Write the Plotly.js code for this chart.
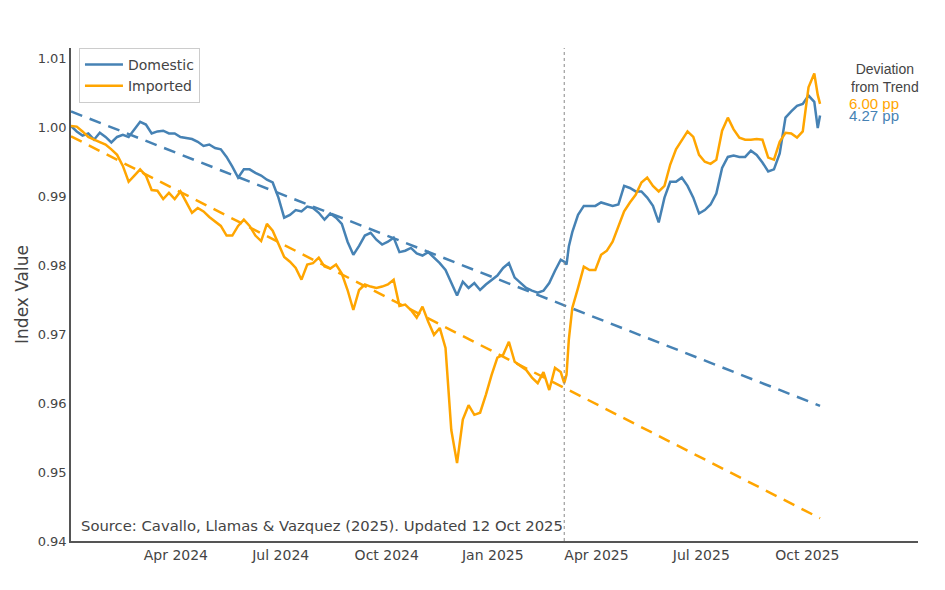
<!DOCTYPE html>
<html>
<head>
<meta charset="utf-8">
<script src="https://cdn.plot.ly/plotly-3.0.1.min.js"></script>
<style>html,body{margin:0;padding:0;background:#fff;}#chart{width:945px;height:590px;}</style>
</head>
<body>
<div id="chart"></div>
<script>
const dates = [
"2024-01-01","2024-01-06","2024-01-11","2024-01-16","2024-01-21","2024-01-26","2024-01-31","2024-02-05","2024-02-10","2024-02-15",
"2024-02-20","2024-02-25","2024-03-01","2024-03-06","2024-03-11","2024-03-16","2024-03-21","2024-03-26","2024-03-31","2024-04-05",
"2024-04-10","2024-04-15","2024-04-20","2024-04-25","2024-04-30","2024-05-05","2024-05-10","2024-05-15","2024-05-20","2024-05-25",
"2024-05-30","2024-06-04","2024-06-09","2024-06-14","2024-06-19","2024-06-24","2024-06-29","2024-07-04","2024-07-09","2024-07-14",
"2024-07-19","2024-07-24","2024-07-29","2024-08-03","2024-08-08","2024-08-13","2024-08-18","2024-08-23","2024-08-28","2024-09-02",
"2024-09-07","2024-09-12","2024-09-17","2024-09-22","2024-09-27","2024-10-02","2024-10-07","2024-10-12","2024-10-17","2024-10-22",
"2024-10-27","2024-11-01","2024-11-06","2024-11-11","2024-11-16","2024-11-21","2024-11-26","2024-12-01","2024-12-06","2024-12-11",
"2024-12-16","2024-12-21","2024-12-26","2024-12-31","2025-01-05","2025-01-10","2025-01-15","2025-01-20","2025-01-25","2025-01-30",
"2025-02-04","2025-02-09","2025-02-14","2025-02-19","2025-02-24","2025-03-01","2025-03-04","2025-03-06","2025-03-08","2025-03-11",
"2025-03-16","2025-03-21","2025-03-26","2025-03-31","2025-04-05","2025-04-10","2025-04-15","2025-04-20","2025-04-25","2025-04-30",
"2025-05-05","2025-05-10","2025-05-15","2025-05-20","2025-05-25","2025-05-30","2025-06-04","2025-06-09","2025-06-14","2025-06-19",
"2025-06-24","2025-06-29","2025-07-04","2025-07-09","2025-07-14","2025-07-19","2025-07-24","2025-07-29","2025-08-03","2025-08-08",
"2025-08-13","2025-08-18","2025-08-23","2025-08-28","2025-09-02","2025-09-07","2025-09-12","2025-09-17","2025-09-22","2025-09-27",
"2025-10-02","2025-10-07","2025-10-10","2025-10-12"
];

const domestic = [
1.0002,0.9994,0.9988,0.9991,0.9982,0.9992,0.9986,0.9978,0.9986,0.9989,
0.9986,0.9997,1.0008,1.0004,0.9991,0.9994,0.9995,0.9991,0.9991,0.9986,
0.9985,0.9983,0.9979,0.9973,0.9975,0.9970,0.9968,0.9957,0.9943,0.9927,
0.9939,0.9939,0.9934,0.9930,0.9924,0.9920,0.9898,0.9869,0.9873,0.9880,
0.9878,0.9885,0.9883,0.9876,0.9866,0.9875,0.9869,0.9860,0.9834,0.9815,
0.9828,0.9843,0.9847,0.9837,0.9830,0.9834,0.9840,0.9819,0.9821,0.9825,
0.9817,0.9814,0.9819,0.9811,0.9803,0.9793,0.9774,0.9756,0.9776,0.9767,
0.9774,0.9764,0.9772,0.9779,0.9785,0.9796,0.9803,0.9782,0.9774,0.9767,
0.9763,0.9760,0.9763,0.9774,0.9792,0.9808,0.9805,0.9801,0.9827,0.9848,
0.9873,0.9886,0.9886,0.9886,0.9891,0.9889,0.9886,0.9888,0.9915,0.9912,
0.9907,0.9907,0.9898,0.9886,0.9862,0.9898,0.9921,0.9921,0.9927,0.9915,
0.9898,0.9875,0.9880,0.9888,0.9904,0.9941,0.9957,0.9959,0.9957,0.9957,
0.9966,0.9960,0.9949,0.9936,0.9939,0.9962,1.0014,1.0023,1.0031,1.0034,
1.0046,1.0037,0.9999,1.0017
];

const imported = [
1.0002,1.0001,0.9994,0.9986,0.9982,0.9979,0.9975,0.9968,0.9960,0.9944,
0.9921,0.9930,0.9939,0.9930,0.9909,0.9908,0.9896,0.9905,0.9896,0.9907,
0.9892,0.9876,0.9883,0.9878,0.9870,0.9864,0.9857,0.9843,0.9843,0.9857,
0.9866,0.9857,0.9843,0.9835,0.9860,0.9850,0.9830,0.9812,0.9805,0.9796,
0.9779,0.9801,0.9803,0.9811,0.9798,0.9795,0.9801,0.9788,0.9764,0.9735,
0.9764,0.9772,0.9769,0.9767,0.9769,0.9772,0.9779,0.9741,0.9743,0.9735,
0.9724,0.9740,0.9718,0.9699,0.9709,0.9680,0.9561,0.9513,0.9576,0.9597,
0.9583,0.9586,0.9612,0.9641,0.9666,0.9670,0.9689,0.9660,0.9654,0.9648,
0.9637,0.9629,0.9645,0.9619,0.9651,0.9645,0.9629,0.9641,0.9692,0.9738,
0.9767,0.9798,0.9793,0.9793,0.9815,0.9821,0.9834,0.9857,0.9878,0.9891,
0.9902,0.9920,0.9927,0.9915,0.9907,0.9915,0.9946,0.9968,0.9981,0.9994,
0.9986,0.9960,0.9950,0.9947,0.9953,0.9995,1.0014,0.9997,0.9985,0.9982,
0.9982,0.9983,0.9982,0.9956,0.9953,0.9979,0.9992,0.9991,0.9985,0.9994,
1.0058,1.0078,1.0047,1.0034
];

const trendDates = ["2024-01-01","2025-10-12"];
const domesticTrend = [1.0023, 0.9596];
const importedTrend = [0.9987, 0.9433];

const tariffDate = "2025-03-04";
const deviations = {Imported: "6.00 pp", Domestic: "4.27 pp"};

const tickVals = ["2024-04-01","2024-07-01","2024-10-01","2025-01-01","2025-04-01","2025-07-01","2025-10-01"];
const tickText = ["Apr 2024","Jul 2024","Oct 2024","Jan 2025","Apr 2025","Jul 2025","Oct 2025"];

const BLUE = "#4682B4", ORANGE = "#FFA500";
const FONT = "DejaVu Sans, Verdana, sans-serif";
const ARIAL = "Liberation Sans, Arial, sans-serif";

const traces = [
  {x: dates, y: domestic, type: "scatter", mode: "lines", name: "Domestic",
   line: {color: BLUE, width: 2.5}},
  {x: dates, y: imported, type: "scatter", mode: "lines", name: "Imported",
   line: {color: ORANGE, width: 2.5}},
  {x: trendDates, y: domesticTrend, type: "scatter", mode: "lines", showlegend: false,
   line: {color: BLUE, width: 2.5, dash: "12px,8px"}, hoverinfo: "skip"},
  {x: trendDates, y: importedTrend, type: "scatter", mode: "lines", showlegend: false,
   line: {color: ORANGE, width: 2.5, dash: "12px,8px"}, hoverinfo: "skip"}
];

const layout = {
  width: 945, height: 590,
  margin: {l: 71, r: 27, t: 48, b: 49},
  paper_bgcolor: "#fff", plot_bgcolor: "#fff",
  font: {family: FONT, size: 14, color: "#444"},
  showlegend: true,
  legend: {x: 0.0094, y: 1.0, xanchor: "left", yanchor: "top",
           bordercolor: "#cccccc", borderwidth: 1, bgcolor: "#fff",
           itemwidth: 38, tracegroupgap: 0,
           font: {family: FONT, size: 14, color: "#444"}},
  xaxis: {type: "date", range: ["2024-01-01", "2026-01-05"],
          tickvals: tickVals, ticktext: tickText, showgrid: false, zeroline: false,
          showline: true, linecolor: "#555", linewidth: 1.5, ticks: "",
          tickfont: {family: FONT, size: 14, color: "#444"}},
  yaxis: {range: [0.94, 1.0115], dtick: 0.01, tick0: 0.94, tickformat: ".2f",
          showgrid: false, zeroline: false, showline: true, linecolor: "#555", linewidth: 1.5,
          ticks: "", tickfont: {family: FONT, size: 13, color: "#444"},
          title: {text: "Index Value", font: {family: FONT, size: 17, color: "#444"}, standoff: 5}},
  shapes: [
    {type: "line", xref: "x", yref: "paper", x0: tariffDate, x1: tariffDate, y0: 0, y1: 1,
     line: {color: "#888", width: 1, dash: "dot"}}
  ],
  annotations: [
    {xref: "paper", yref: "paper", x: 0.961, y: 0.94, text: "Deviation<br>from Trend",
     showarrow: false, xanchor: "center", yanchor: "middle", font: {family: ARIAL, size: 14, color: "#444"}},
    {xref: "paper", yref: "y", x: 0.916, y: imported[imported.length - 1], text: deviations.Imported,
     showarrow: false, xanchor: "left", yanchor: "middle", font: {family: ARIAL, size: 15, color: ORANGE}},
    {xref: "paper", yref: "y", x: 0.916, y: domestic[domestic.length - 1], text: deviations.Domestic,
     showarrow: false, xanchor: "left", yanchor: "middle", font: {family: ARIAL, size: 15, color: BLUE}},
    {xref: "paper", yref: "paper", x: 0.0095, y: 0.032,
     text: "Source: Cavallo, Llamas &amp; Vazquez (2025). Updated 12 Oct 2025",
     showarrow: false, xanchor: "left", yanchor: "middle", font: {family: FONT, size: 14.8, color: "#444"}}
  ]
};

Plotly.newPlot("chart", traces, layout, {displayModeBar: false, responsive: false});
</script>
</body>
</html>
